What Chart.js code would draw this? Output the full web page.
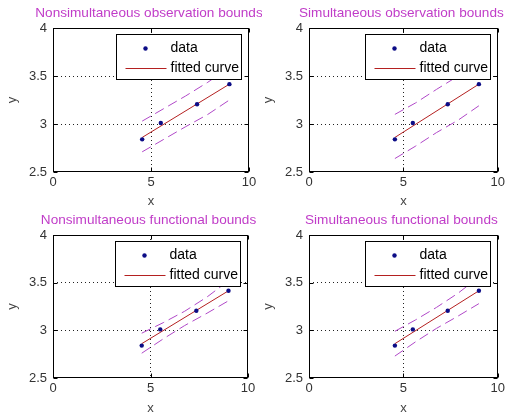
<!DOCTYPE html>
<html><head><meta charset="utf-8">
<script src="https://cdn.jsdelivr.net/npm/chart.js@4/dist/chart.umd.min.js"></script>
<style>
html,body{margin:0;padding:0;background:#fff;width:508px;height:417px;overflow:hidden}
canvas{position:absolute}
</style></head><body>
<canvas id="p0" width="262" height="208" style="left:0;top:0"></canvas>
<canvas id="p1" width="252" height="208" style="left:256px;top:0"></canvas>
<canvas id="p2" width="262" height="208" style="left:0;top:207px"></canvas>
<canvas id="p3" width="252" height="208" style="left:256px;top:207px"></canvas>
<script>
// ---- data ----
const xData = [4.55, 5.5, 7.35, 9.0];
const yData = [2.84, 3.01, 3.205, 3.415];
const fitX = [4.55, 9.0];
const fitY = [2.86, 3.415];
const boundX = [4.55, 5.65, 6.75, 7.9, 9.0];
const upperNonsimObs = [3.03, 3.16, 3.29, 3.435, 3.59];
const lowerNonsimObs = [2.71, 2.84, 2.97, 3.10, 3.25];
const upperSimObs = [3.10, 3.22, 3.36, 3.50, 3.65];
const lowerSimObs = [2.64, 2.77, 2.91, 3.04, 3.19];
const upperNonsimFun = [2.97, 3.08, 3.20, 3.35, 3.52];
const lowerNonsimFun = [2.76, 2.91, 3.05, 3.18, 3.31];
const upperSimFun = [2.99, 3.11, 3.24, 3.39, 3.56];
const lowerSimFun = [2.73, 2.88, 3.02, 3.15, 3.28];
const titles = ['Nonsimultaneous observation bounds', 'Simultaneous observation bounds',
                'Nonsimultaneous functional bounds', 'Simultaneous functional bounds'];
const xTicks = [0, 5, 10];
const yTicks = [2.5, 3, 3.5, 4];
const legendLabels = ['data', 'fitted curve'];

const uppers = [upperNonsimObs, upperSimObs, upperNonsimFun, upperSimFun];
const lowers = [lowerNonsimObs, lowerSimObs, lowerNonsimFun, lowerSimFun];
const rightPad = [13, 4, 14, 4];

const FONT = "'Liberation Sans', Arial, sans-serif";
const pts = (xs, ys) => xs.map((x, i) => ({x: x, y: ys[i]}));

const boxPlugin = {
  id: 'boxLegend',
  afterLayout(chart) {
    // let the title spread wider than the plot box (as in the reference), centred on it
    const t = chart.titleBlock, a = chart.chartArea;
    if (!t) return;
    const cx = (a.left + a.right) / 2 - 2;
    t.left = cx - 125; t.right = cx + 125; t.width = 250;
  },
  afterDatasetsDraw(chart) {
    const ctx = chart.ctx, a = chart.chartArea;
    const xs = chart.scales.x, ys = chart.scales.y;
    const L = Math.round(a.left) + 0.5, R = Math.round(a.right) - 0.5;
    const T = Math.round(a.top) + 0.5, B = Math.round(a.bottom) - 0.5;
    ctx.save();
    ctx.setLineDash([]);
    ctx.strokeStyle = '#000';
    ctx.lineWidth = 1;
    ctx.strokeRect(L, T, R - L, B - T);
    // inward tick marks
    ctx.beginPath();
    xTicks.forEach(v => {
      const p = Math.round(xs.getPixelForValue(v)) + 0.5;
      ctx.moveTo(p, B); ctx.lineTo(p, B - 4);
      ctx.moveTo(p, T); ctx.lineTo(p, T + 4);
    });
    yTicks.forEach(v => {
      const p = Math.round(ys.getPixelForValue(v)) + 0.5;
      ctx.moveTo(L, p); ctx.lineTo(L + 4, p);
      ctx.moveTo(R, p); ctx.lineTo(R - 4, p);
    });
    ctx.stroke();
    // legend box
    const w = 125, h = 45;
    const lx = Math.round(a.right - 8 - w) + 0.5, ly = Math.round(a.top + 6) + 0.5;
    ctx.fillStyle = '#fff';
    ctx.fillRect(lx, ly, w, h);
    ctx.strokeRect(lx, ly, w, h);
    const d0 = chart.data.datasets[0], d1 = chart.data.datasets[1];
    ctx.fillStyle = d0.backgroundColor;
    ctx.beginPath();
    ctx.arc(lx + 29, ly + 14, 2.2, 0, Math.PI * 2);
    ctx.fill();
    ctx.strokeStyle = d1.borderColor;
    ctx.beginPath();
    ctx.moveTo(lx + 9, ly + 34); ctx.lineTo(lx + 50, ly + 34);
    ctx.stroke();
    ctx.fillStyle = '#000';
    ctx.font = '14px ' + FONT;
    ctx.textBaseline = 'middle';
    ctx.textAlign = 'left';
    ctx.fillText(d0.label, lx + 54, ly + 14);
    ctx.fillText(d1.label, lx + 54, ly + 34);
    ctx.restore();
  }
};

for (let k = 0; k < 4; k++) {
  new Chart(document.getElementById('p' + k), {
    type: 'scatter',
    data: {
      datasets: [
        {label: legendLabels[0], data: pts(xData, yData), showLine: false,
         pointRadius: 2.2, pointBorderWidth: 0, backgroundColor: '#0c0c86', borderColor: '#0c0c86'},
        {label: legendLabels[1], data: pts(fitX, fitY), showLine: true, pointRadius: 0,
         borderColor: '#b42020', borderWidth: 1},
        {label: 'upper', data: pts(boundX, uppers[k]), showLine: true, pointRadius: 0,
         borderColor: '#b048c8', borderWidth: 1, borderDash: [10, 5]},
        {label: 'lower', data: pts(boundX, lowers[k]), showLine: true, pointRadius: 0,
         borderColor: '#b048c8', borderWidth: 1, borderDash: [10, 5]}
      ]
    },
    options: {
      responsive: false,
      animation: false,
      layout: {padding: {left: 0, right: rightPad[k], top: 0, bottom: 0}},
      plugins: {
        legend: {display: false},
        tooltip: {enabled: false},
        title: {display: true, text: titles[k], fullSize: false, color: '#c03cc8',
                font: {family: FONT, size: 13.6, weight: 'normal', lineHeight: '14px'}, padding: {top: 6, bottom: 8}}
      },
      scales: {
        x: {
          type: 'linear', min: 0, max: 10,
          afterBuildTicks: s => { s.ticks = xTicks.map(v => ({value: v})); },
          afterFit: s => { s.height = (k < 2) ? 36 : 37; },
          grid: {drawTicks: false, lineWidth: 1,
                 color: c => (c.tick && (c.tick.value === 0 || c.tick.value === 10)) ? 'rgba(0,0,0,0)' : '#222'},
          border: {display: false, dash: [1, 3]},
          ticks: {color: '#333', padding: 3, font: {family: FONT, size: 13}, callback: v => String(v), maxRotation: 0},
          title: {display: true, text: 'x', color: '#444', font: {family: FONT, size: 13, lineHeight: '14px'},
                  padding: {top: 0, bottom: 0}}
        },
        y: {
          type: 'linear', min: 2.5, max: 4,
          afterBuildTicks: s => { s.ticks = yTicks.map(v => ({value: v})); },
          afterFit: s => { s.width = 53; },
          grid: {drawTicks: false, lineWidth: 1,
                 color: c => (c.tick && (c.tick.value === 2.5 || c.tick.value === 4)) ? 'rgba(0,0,0,0)' : '#222'},
          border: {display: false, dash: [1, 3]},
          ticks: {color: '#333', padding: 6, font: {family: FONT, size: 13}, callback: v => String(v)},
          title: {display: true, text: 'y', color: '#444', font: {family: FONT, size: 13, lineHeight: '14px'},
                  padding: {top: 5, bottom: 0}}
        }
      }
    },
    plugins: [boxPlugin]
  });
}
</script>
</body></html>
